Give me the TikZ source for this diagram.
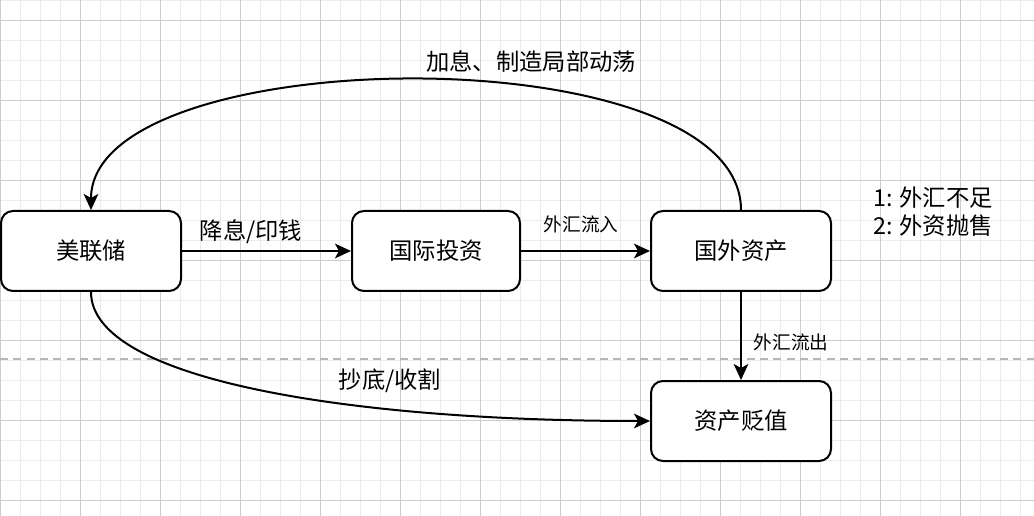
\documentclass[tikz,border=0pt]{standalone}
\usepackage{fontspec}
\newfontfamily\cjk{Noto Sans CJK SC}
\usepackage{tikz}
\usetikzlibrary{arrows.meta}

\begin{document}
\begin{tikzpicture}[
    x=0.75pt, y=-0.75pt,
    % Define styles for the boxes and the connectors
    box/.style={rectangle, rounded corners=9pt, draw=black, line width=1.5pt, fill=white,
        minimum width=135pt, minimum height=60pt, font=\cjk\fontsize{17.5}{21}\selectfont},
    flow/.style={draw=black, line width=1.5pt, -{Stealth[length=12pt, width=11pt, inset=3pt]}},
    bigtag/.style={font=\cjk\fontsize{17.5}{21}\selectfont, inner sep=1pt},
    smalltag/.style={font=\cjk\fontsize{14}{17}\selectfont, inner sep=1pt},
    % Define grid styles
    minorgrid/.style={draw=black!8, line width=0.6pt},
    majorgrid/.style={draw=black!20, line width=0.6pt}
]

    % --- Canvas and grid ---
    \useasboundingbox (0,0) rectangle (1034,516);
    \fill[white] (0,0) rectangle (1034,516);
    \foreach \gx in {0,20,...,1020} {
        \draw[minorgrid] (\gx,0) -- (\gx,516);
    }
    \foreach \gy in {0,20,...,500} {
        \draw[minorgrid] (0,\gy) -- (1034,\gy);
    }
    \foreach \gx in {0,80,...,1000} {
        \draw[majorgrid] (\gx,0) -- (\gx,516);
    }
    \foreach \gy in {20,100,...,500} {
        \draw[majorgrid] (0,\gy) -- (1034,\gy);
    }

    % --- Dashed separator ---
    \draw[draw=black!28, line width=1pt, dash pattern=on 6pt off 4pt] (0,359) -- (1034,359);

    % --- Boxes ---
    \node[box] (fed)     at (91,251)    {美联储};
    \node[box, minimum width=126pt] (invest) at (436,251) {国际投资};
    \node[box] (foreign) at (741,251)   {国外资产};
    \node[box] (deprec)  at (741,421)   {资产贬值};

    % --- Connectors ---
    \draw[flow] (fed) -- (invest);
    \draw[flow] (invest) -- (foreign);
    \draw[flow] (foreign) -- (deprec);
    \draw[flow] (foreign.north) .. controls (741,33) and (91,40) .. (fed.north);
    \draw[flow] (fed.south) .. controls (91,380) and (350,421) .. (deprec.west);

    % --- Labels ---
    \node[bigtag] (lblcut)    at (251,232) {降息/印钱};
    \node[smalltag] (lblin)   at (581,224) {外汇流入};
    \node[smalltag] (lblout)  at (791,342) {外汇流出};
    \node[bigtag] (lblhike)   at (531,62)  {加息、制造局部动荡};
    \node[bigtag] (lblreap)   at (390,381) {抄底/收割};
    \node[bigtag, align=center] (legend) at (933,212) {1: 外汇不足\\2: 外资抛售};

\end{tikzpicture}
\end{document}
